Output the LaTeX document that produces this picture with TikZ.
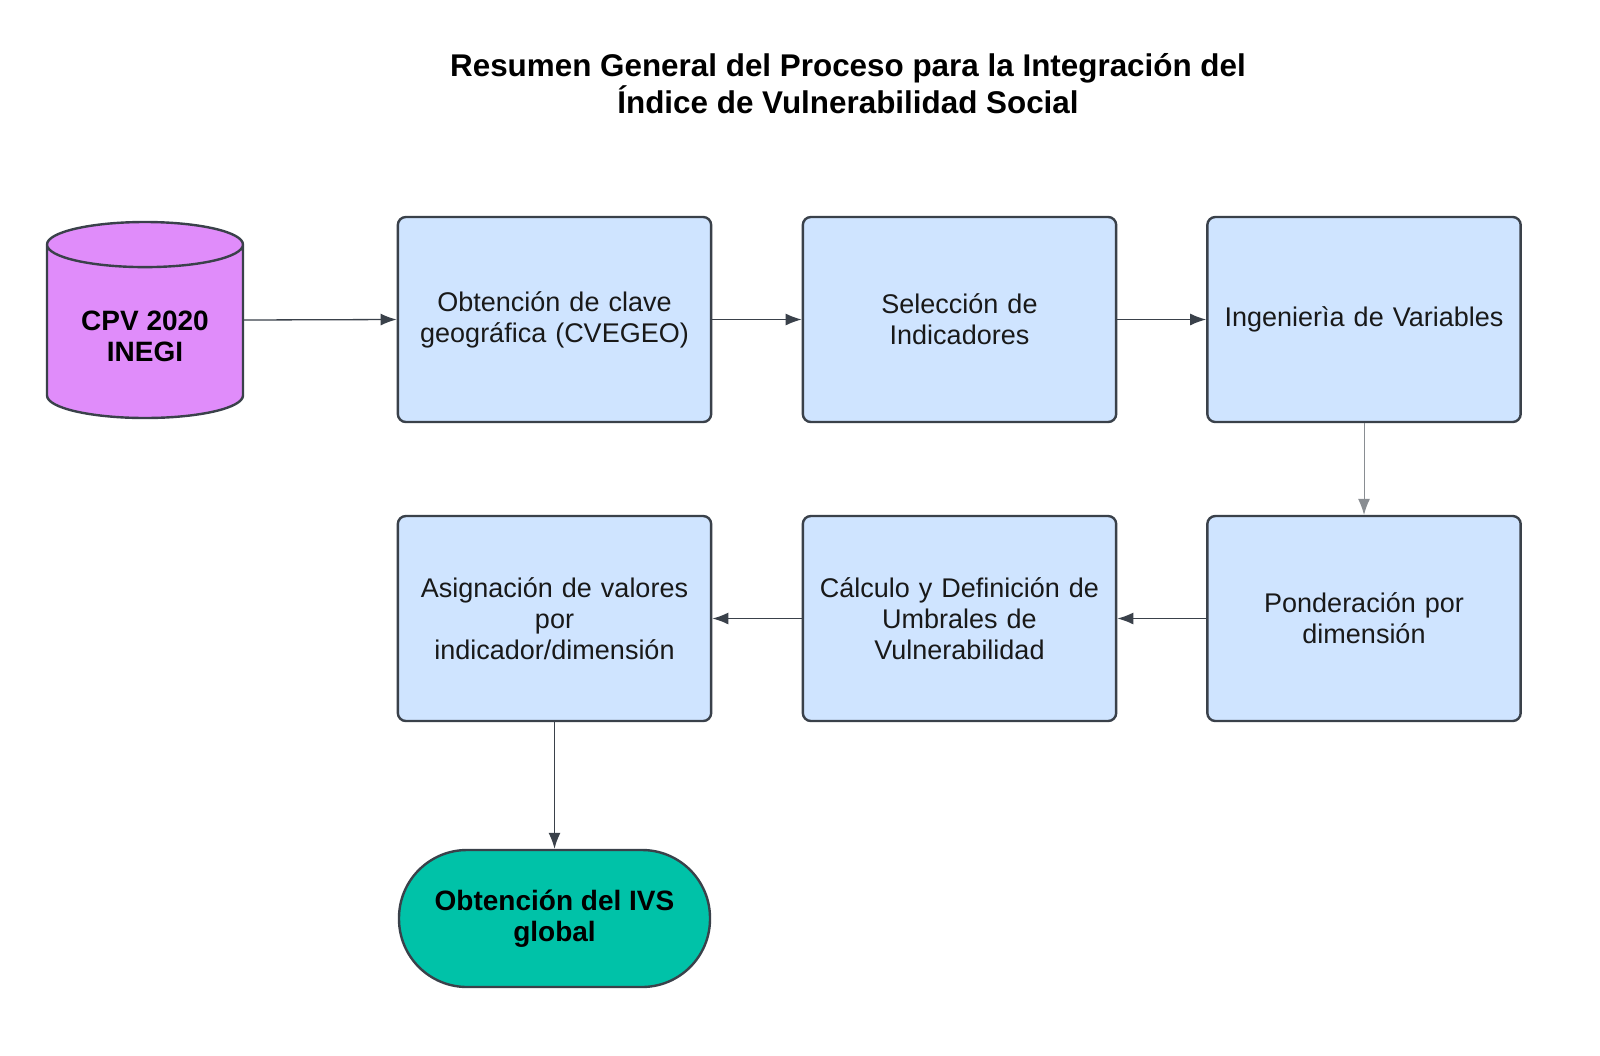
\documentclass[tikz,border=0pt]{standalone}
\usepackage{fontspec}
\setmainfont{Liberation Sans}
\usetikzlibrary{shapes.geometric,arrows.meta}
\definecolor{boxblue}{HTML}{CFE4FF}
\definecolor{edgegray}{HTML}{3A414A}
\definecolor{dbpink}{HTML}{E08CFA}
\definecolor{endgreen}{HTML}{00C2A8}
\tikzset{
  proc/.style={draw=edgegray, line width=1.2pt, fill=boxblue, rounded corners=4pt,
    minimum width=155.5pt, minimum height=102.5pt, align=center, text width=150pt,
    text=black!90, font=\fontsize{13.5}{15.5}\selectfont},
  db/.style={cylinder, shape border rotate=90, aspect=0.32, draw=edgegray, line width=1.2pt,
    fill=dbpink, minimum width=98pt, minimum height=98pt, align=center, anchor=shape center,
    font=\bfseries\fontsize{14}{15.5}\selectfont},
  term/.style={draw=edgegray, line width=1.2pt, fill=endgreen, rounded corners=34pt,
    minimum width=155.5pt, minimum height=68.5pt, align=center,
    font=\bfseries\fontsize{14}{15.5}\selectfont},
  flow/.style={draw=edgegray, line width=0.65pt, -{Latex[length=8pt,width=6pt]}}
}
\begin{document}
\begin{tikzpicture}[x=0.5pt,y=-0.5pt]
      \useasboundingbox[fill=white] (0,0) rectangle (1600,1055);

      % Title
      \node[align=center, font=\bfseries\fontsize{15.7}{18.5}\selectfont] (title) at (848,84)
        {Resumen General del Proceso para la Integración del\\Índice de Vulnerabilidad Social};

      % First row
      \node[db] (cpv) at (145,320) {CPV 2020\\INEGI};
      \node[proc] (clave) at (554.5,319.5) {Obtención de clave\\geográfica (CVEGEO)};
      \node[proc] (selec) at (959.5,319.5) {Selección de\\Indicadores};
      \node[proc] (ingen) at (1364,319.5) {Ingenierìa de Variables};

      % Second row
      \node[proc] (ponde) at (1364,618.5) {Ponderación por\\dimensión};
      \node[proc] (umbral) at (959.5,618.5) {Cálculo y Definición de\\Umbrales de\\Vulnerabilidad};
      \node[proc] (asign) at (554.5,618.5) {Asignación de valores\\por\\indicador/dimensión};

      % Result
      \node[term] (ivs) at (554.5,918.5) {Obtención del IVS\\global};

      % Connectors
      \draw[flow] (cpv.shape center -| cpv.east) -- (clave.west);
      \draw[flow] (clave) -- (selec);
      \draw[flow] (selec) -- (ingen);
      \draw[flow, draw=edgegray!60, line width=0.5pt] (ingen) -- (ponde);
      \draw[flow] (ponde) -- (umbral);
      \draw[flow] (umbral) -- (asign);
      \draw[flow] (asign) -- (ivs);
    \end{tikzpicture}
\end{document}
